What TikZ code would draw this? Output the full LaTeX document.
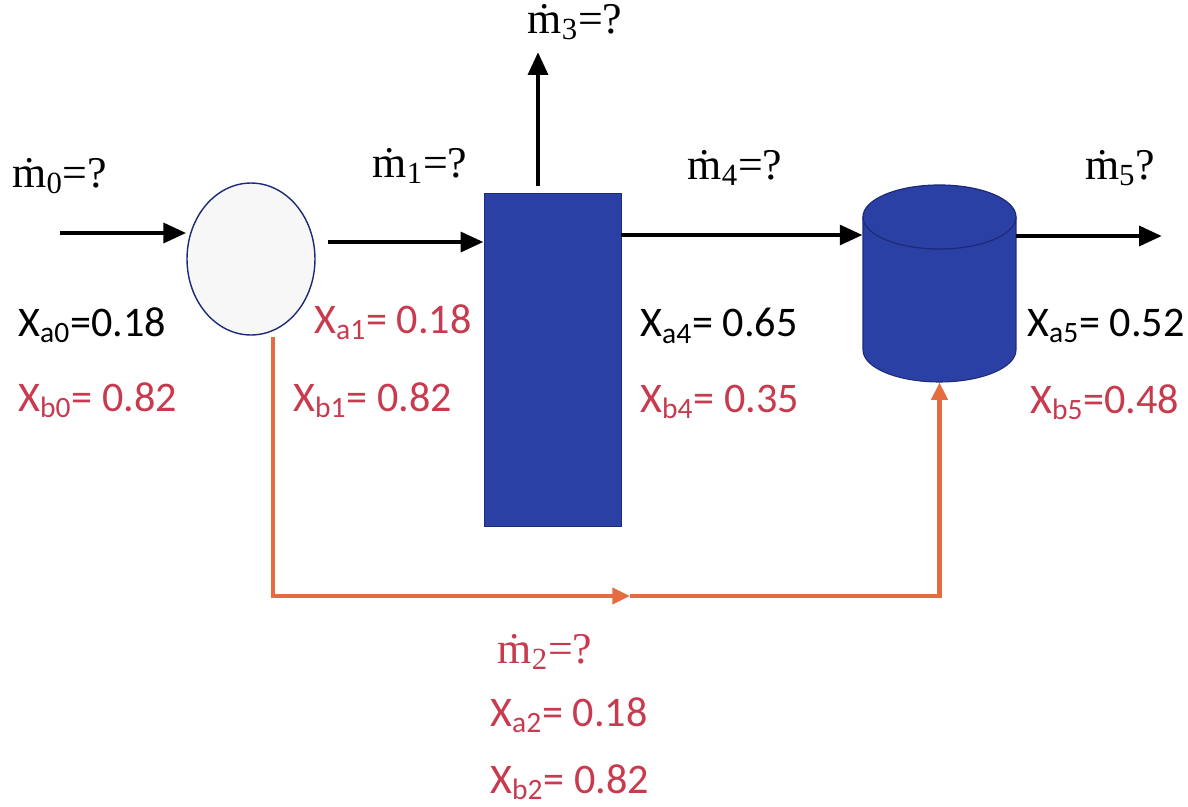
\documentclass[tikz,border=0pt]{standalone}
\usepackage{fontspec}
\setmainfont{Carlito}
\newfontfamily\flowfont{Liberation Serif}
\usetikzlibrary{arrows.meta,shapes.geometric}
\definecolor{unitblue}{RGB}{42,64,164}
\definecolor{rimblue}{RGB}{28,42,120}
\definecolor{bypass}{RGB}{229,108,64}
\definecolor{fracred}{RGB}{200,58,78}
\tikzset{
  stream/.style={line width=2.8pt,-{Triangle[length=13pt,width=11pt]}},
  bypassline/.style={bypass,line width=2.6pt,-{Triangle[length=10pt,width=9pt]}},
  flow/.style={font=\flowfont\fontsize{25}{30}\selectfont,inner sep=0pt},
  frac/.style={font=\fontsize{24}{29}\selectfont,inner sep=0pt,anchor=west}
}
\begin{document}
\begin{tikzpicture}[x=0.02cm,y=-0.02cm]
\useasboundingbox (0,0) rectangle (1188,806);

% units
\node[ellipse,draw=rimblue,line width=0.8pt,fill=black!3,
      minimum width=2.56cm,minimum height=3.04cm] (mixer) at (251,259) {};
\node[rectangle,draw=rimblue,line width=0.5pt,fill=unitblue,
      minimum width=2.74cm,minimum height=6.66cm] (column) at (552.5,359.5) {};
\node[rectangle,minimum width=3.06cm,minimum height=3.94cm] (tank) at (939.5,283.5) {};
% tank drawn as a cylinder
\fill[unitblue] (863,217) rectangle (1016,350);
\fill[unitblue] (939.5,350) ellipse [x radius=76.5,y radius=32];
\draw[rimblue,line width=0.6pt] (863,217) -- (863,350)
   arc[start angle=180,end angle=0,x radius=76.5,y radius=32] -- (1016,217);
\draw[rimblue,line width=0.7pt,fill=unitblue] (939.5,217) ellipse [x radius=76.5,y radius=32];

% stream ends
\coordinate (in0) at (60,233);
\coordinate (s1) at (328,242);
\coordinate (s3) at (538,186);
\coordinate (top3) at (538,52);
\coordinate (s4) at (621,235);
\coordinate (out5) at (1162,236);
\coordinate (s2) at (273,337);
\coordinate (mid2) at (630,596);

% streams
\draw[stream] (in0) -- (in0 -| mixer.west);
\draw[stream] (s1) -- (s1 -| column.west);
\draw[stream] (s3) -- (top3);
\draw[stream] (s4) -- (s4 -| tank.west);
\draw[stream] (out5 -| tank.east) -- (out5);
\draw[bypassline] (s2) |- (mid2);
\draw[bypassline] (mid2) -| (tank.south);

% flow rates
\node[flow,anchor=west] (m0) at (12,176) {ṁ\textsubscript{0}=?};
\node[flow] (m1) at (420,166) {ṁ\textsubscript{1}=?};
\node[flow] (m3) at (575,22) {ṁ\textsubscript{3}=?};
\node[flow] (m4) at (735,168) {ṁ\textsubscript{4}=?};
\node[flow] (m5) at (1120,168) {ṁ\textsubscript{5}?};
\node[flow,fracred] (m2) at (545,652) {ṁ\textsubscript{2}=?};

% fractions
\node[frac] (xa0) at (18,325) {X\textsubscript{a0}=0.18};
\node[frac,fracred] (xb0) at (18,400) {X\textsubscript{b0}= 0.82};
\node[frac,fracred] (xa1) at (314,322) {X\textsubscript{a1}= 0.18};
\node[frac,fracred] (xb1) at (293,400) {X\textsubscript{b1}= 0.82};
\node[frac] (xa4) at (640,326) {X\textsubscript{a4}= 0.65};
\node[frac,fracred] (xb4) at (640,402) {X\textsubscript{b4}= 0.35};
\node[frac] (xa5) at (1027,326) {X\textsubscript{a5}= 0.52};
\node[frac,fracred] (xb5) at (1030,402) {X\textsubscript{b5}=0.48};
\node[frac,fracred] (xa2) at (490,715) {X\textsubscript{a2}= 0.18};
\node[frac,fracred] (xb2) at (490,782) {X\textsubscript{b2}= 0.82};
\end{tikzpicture}
\end{document}
